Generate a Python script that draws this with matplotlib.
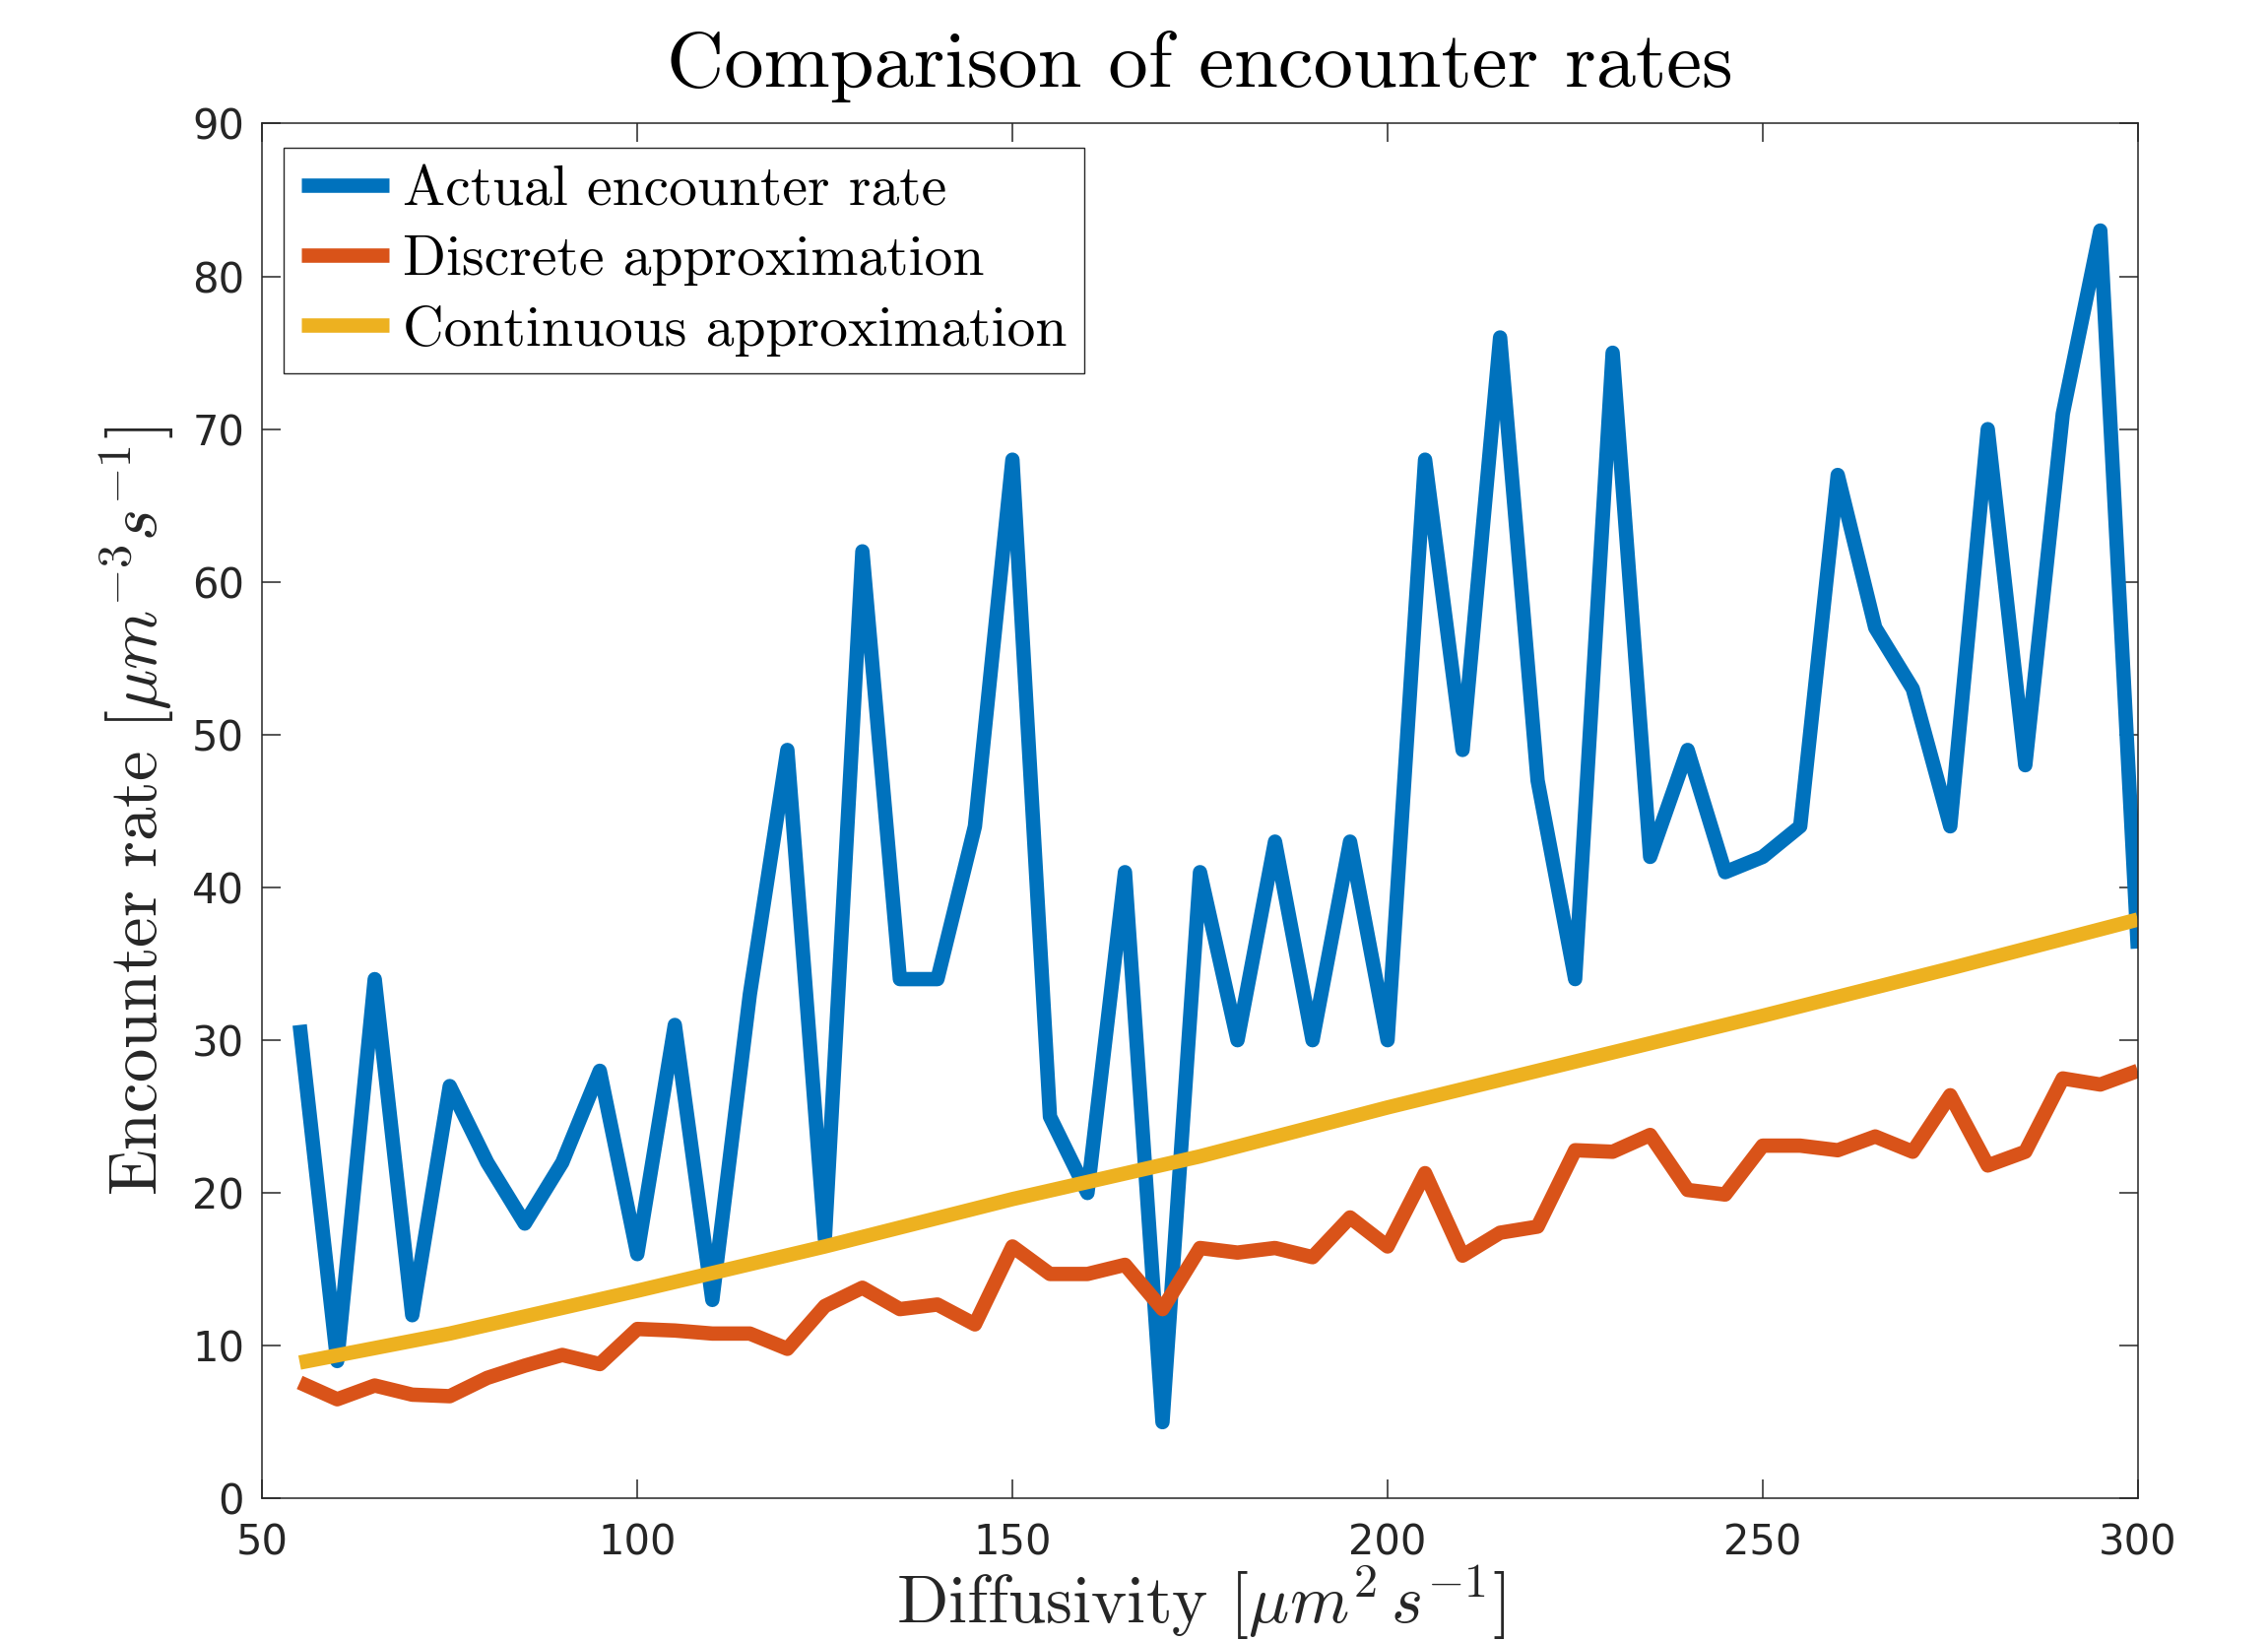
import numpy as np
import matplotlib
matplotlib.use("Agg")
import matplotlib.pyplot as plt

plt.rcParams['mathtext.fontset'] = 'cm'

# ---------------- data ----------------
diffusivity = [55, 60, 65, 70, 75, 80, 85, 90, 95, 100,
               105, 110, 115, 120, 125, 130, 135, 140, 145, 150,
               155, 160, 165, 170, 175, 180, 185, 190, 195, 200,
               205, 210, 215, 220, 225, 230, 235, 240, 245, 250,
               255, 260, 265, 270, 275, 280, 285, 290, 295, 300]

actual_rate = [31, 9, 34, 12, 27, 22, 18, 22, 28, 16,
               31, 13, 33, 49, 17, 62, 34, 34, 44, 68,
               25, 20, 41, 5, 41, 30, 43, 30, 43, 30,
               68, 49, 76, 47, 34, 75, 42, 49, 41, 42,
               44, 67, 57, 53, 44, 70, 48, 71, 83, 36]

discrete_rate = [7.6, 6.5, 7.4, 6.8, 6.7, 7.9, 8.7, 9.4, 8.8, 11.1,
                 11.0, 10.8, 10.8, 9.8, 12.6, 13.8, 12.4, 12.7, 11.4, 16.5,
                 14.7, 14.7, 15.3, 12.4, 16.4, 16.1, 16.4, 15.8, 18.4, 16.5,
                 21.3, 15.9, 17.4, 17.8, 22.8, 22.7, 23.8, 20.2, 19.9, 23.1,
                 23.1, 22.8, 23.7, 22.7, 26.4, 21.8, 22.7, 27.5, 27.1, 28.0]

cont_diffusivity = [55, 75, 100, 125, 150, 175, 200, 225, 250, 275, 300]
cont_rate = [8.9, 10.8, 13.6, 16.5, 19.6, 22.4, 25.6, 28.6, 31.6, 34.7, 37.9]

labels = ['Actual encounter rate', 'Discrete approximation', 'Continuous approximation']
colors = ['#0072BD', '#D95319', '#EDB120']

# ---------------- figure ----------------
fig = plt.figure(figsize=(23.03, 16.66), dpi=100)
ax = fig.add_axes([0.1156, 0.0868, 0.8270, 0.8379])

lw = 10.5
ax.plot(diffusivity, actual_rate, color=colors[0], lw=lw, label=labels[0],
        solid_joinstyle='round', solid_capstyle='butt')
ax.plot(diffusivity, discrete_rate, color=colors[1], lw=lw, label=labels[1],
        solid_joinstyle='round', solid_capstyle='butt')
ax.plot(cont_diffusivity, cont_rate, color=colors[2], lw=lw, label=labels[2],
        solid_joinstyle='round', solid_capstyle='butt')

ax.set_xlim(50, 300)
ax.set_ylim(0, 90)
ax.set_xticks(np.arange(50, 301, 50))
ax.set_yticks(np.arange(0, 91, 10))

axcol = '#262626'
for sp in ax.spines.values():
    sp.set_color(axcol)
    sp.set_linewidth(1.1)
ax.tick_params(direction='in', length=13.5, width=1.1, top=True, right=True,
               colors=axcol, labelsize=30)
ax.tick_params(axis='x', pad=17)
ax.tick_params(axis='y', pad=13)

ax.set_title('Comparison of encounter rates', fontfamily='cmr10', fontsize=58,
             pad=27, color='k')
ax.set_xlabel(r'Diffusivity $[\mu m^2\, s^{-1}]$', fontfamily='cmr10',
              fontsize=49.5, color=axcol)
ax.xaxis.set_label_coords(0.5, -0.0475)
ax.set_ylabel(r'Encounter rate $[\mu m^{-3} s^{-1}]$', fontfamily='cmr10',
              fontsize=49.5, color=axcol)
ax.yaxis.set_label_coords(-0.0455, 0.5)

leg = ax.legend(loc='upper left', bbox_to_anchor=(0.01166, 0.9821),
                borderaxespad=0, fancybox=False, edgecolor=axcol, framealpha=1,
                handlelength=1.55, handletextpad=0.25, borderpad=0.3,
                labelspacing=0.34, prop={'family': 'cmr10', 'size': 41.5})
leg.get_frame().set_linewidth(1.0)

fig.savefig('out.png', dpi=100)
